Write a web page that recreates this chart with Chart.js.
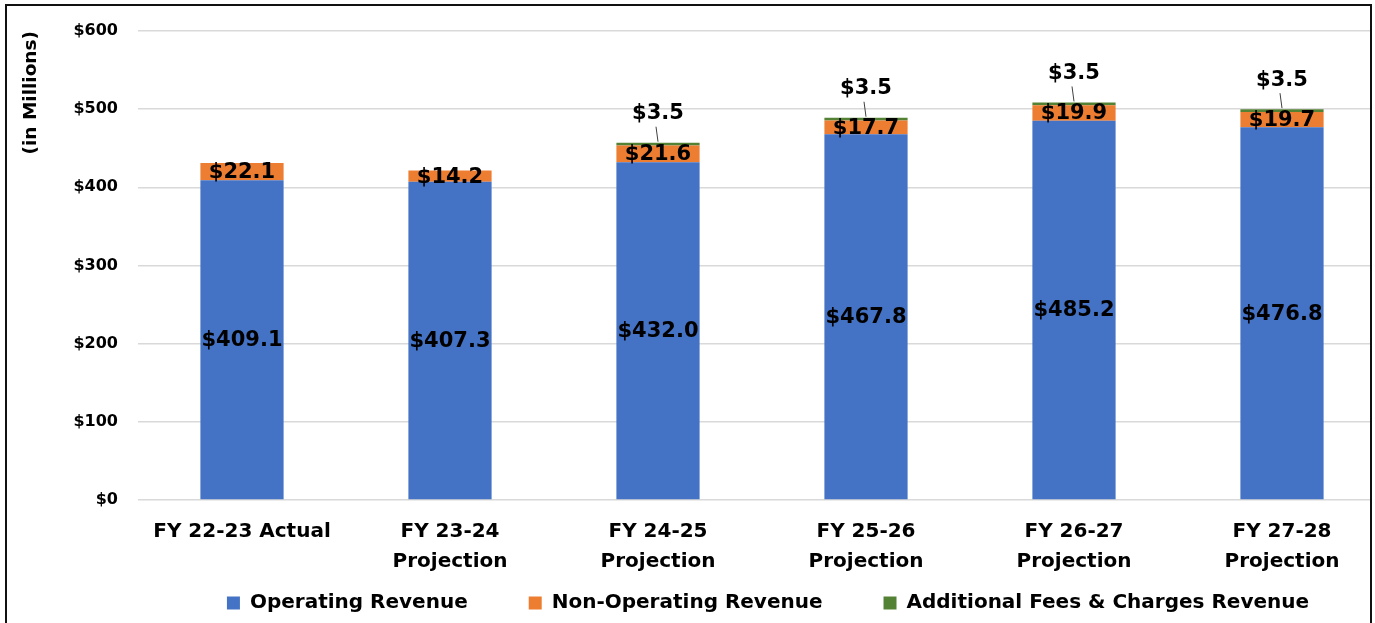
<!DOCTYPE html>
<html>
<head>
<meta charset="utf-8">
<script src="https://cdn.jsdelivr.net/npm/chart.js@4.4.1/dist/chart.umd.min.js"></script>
<style>
  html, body { margin: 0; padding: 0; background: #fff; overflow: hidden; }
  #frame {
    position: absolute; left: 5px; top: 4px; width: 1363px; height: 640px;
    border: 2px solid #111; overflow: hidden; background: #fff;
  }
  #wrap { position: absolute; left: -7px; top: -6px; width: 1400px; height: 623px; }
</style>
</head>
<body>
<div id="frame"><div id="wrap"><canvas id="grafica" width="1400" height="623"></canvas></div></div>
<script>
// categorías y valores (millones de dólares)
var categorias = [
    'FY 22-23 Actual',
    ['FY 23-24', 'Projection'],
    ['FY 24-25', 'Projection'],
    ['FY 25-26', 'Projection'],
    ['FY 26-27', 'Projection'],
    ['FY 27-28', 'Projection']
];
var ingresosOperativos = [409.1, 407.3, 432.0, 467.8, 485.2, 476.8];
var ingresosNoOperativos = [22.1, 14.2, 21.6, 17.7, 19.9, 19.7];
var cargosAdicionales = [null, null, 3.5, 3.5, 3.5, 3.5];
var marcasY = [0, 100, 200, 300, 400, 500, 600];

var FUENTE = '"DejaVu Sans", sans-serif';

// etiquetas de valores sobre las barras
var etiquetas = {
    id: 'etiquetas',
    afterDatasetsDraw: function (chart) {
        var ctx = chart.ctx;
        ctx.save();
        ctx.fillStyle = '#000';
        ctx.textAlign = 'center';
        ctx.textBaseline = 'middle';
        ctx.font = 'bold 21px ' + FUENTE;
        chart.data.datasets.forEach(function (ds, i) {
            var meta = chart.getDatasetMeta(i);
            meta.data.forEach(function (bar, j) {
                var v = ds.data[j];
                if (v == null) return;
                var txt = '$' + v.toFixed(1);
                if (i < 2) {
                    ctx.fillText(txt, bar.x, (bar.y + bar.base) / 2 + 1);
                } else {
                    var ly = bar.y - 29;
                    ctx.fillText(txt, bar.x, ly);
                    ctx.strokeStyle = '#404040';
                    ctx.lineWidth = 1;
                    ctx.beginPath();
                    ctx.moveTo(bar.x - 2, ly + 13);
                    ctx.lineTo(bar.x, bar.y - 1);
                    ctx.stroke();
                }
            });
        });
        ctx.restore();
    }
};

// leyenda: menos alta para que no empuje el eje, y centrada algo más a la derecha
var ajustarLeyenda = {
    id: 'ajustarLeyenda',
    beforeLayout: function (chart) {
        var lg = chart.legend;
        if (lg && !lg._parcheado) {
            var fitOriginal = lg.fit;
            lg.fit = function () { fitOriginal.call(this); this.height = 40; };
            lg._parcheado = true;
        }
    },
    afterLayout: function (chart) {
        var lg = chart.legend;
        lg.left += 66;
        lg.right += 66;
        lg.top -= 51;
        lg.height += 51;
    }
};

var ctx = document.getElementById('grafica').getContext('2d');
var grafica = new Chart(ctx, {
    type: 'bar',
    data: {
        labels: categorias,
        datasets: [
            { label: 'Operating Revenue', data: ingresosOperativos, backgroundColor: '#4472c4' },
            { label: 'Non-Operating Revenue', data: ingresosNoOperativos, backgroundColor: '#ed7d31' },
            { label: 'Additional Fees & Charges Revenue', data: cargosAdicionales, backgroundColor: '#548235' }
        ]
    },
    options: {
        responsive: false,
        animation: false,
        layout: { padding: { left: 18, right: 14, top: 31, bottom: 0 } },
        datasets: { bar: { barPercentage: 0.4, categoryPercentage: 1 } },
        plugins: {
            legend: {
                position: 'bottom',
                labels: {
                    color: '#000',
                    font: { family: FUENTE, size: 20, weight: 'bold' },
                    boxWidth: 13, boxHeight: 13, padding: 61
                }
            },
            tooltip: { enabled: false }
        },
        scales: {
            x: {
                stacked: true,
                afterFit: function (s) { s.height = 83; },
                grid: { display: false },
                border: { display: false },
                ticks: {
                    color: '#000', padding: 9, maxRotation: 0,
                    font: { family: FUENTE, size: 20, weight: 'bold', lineHeight: 1.5 }
                }
            },
            y: {
                stacked: true,
                min: 0, max: 600,
                afterFit: function (s) { s.width = 120; },
                afterBuildTicks: function (s) { s.ticks = marcasY.map(function (v) { return { value: v }; }); },
                grid: { color: '#d9d9d9', lineWidth: 1.5, drawTicks: false },
                border: { display: false },
                ticks: {
                    color: '#000', padding: 20,
                    font: { family: FUENTE, size: 16, weight: 'bold' },
                    callback: function (v) { return '$' + v; }
                },
                title: {
                    display: true, text: '(in Millions)', align: 'end', color: '#000',
                    font: { family: FUENTE, size: 18.5, weight: 'bold' }, padding: { top: 2, bottom: 0 }
                }
            }
        }
    },
    plugins: [etiquetas, ajustarLeyenda]
});
</script>
</body>
</html>
